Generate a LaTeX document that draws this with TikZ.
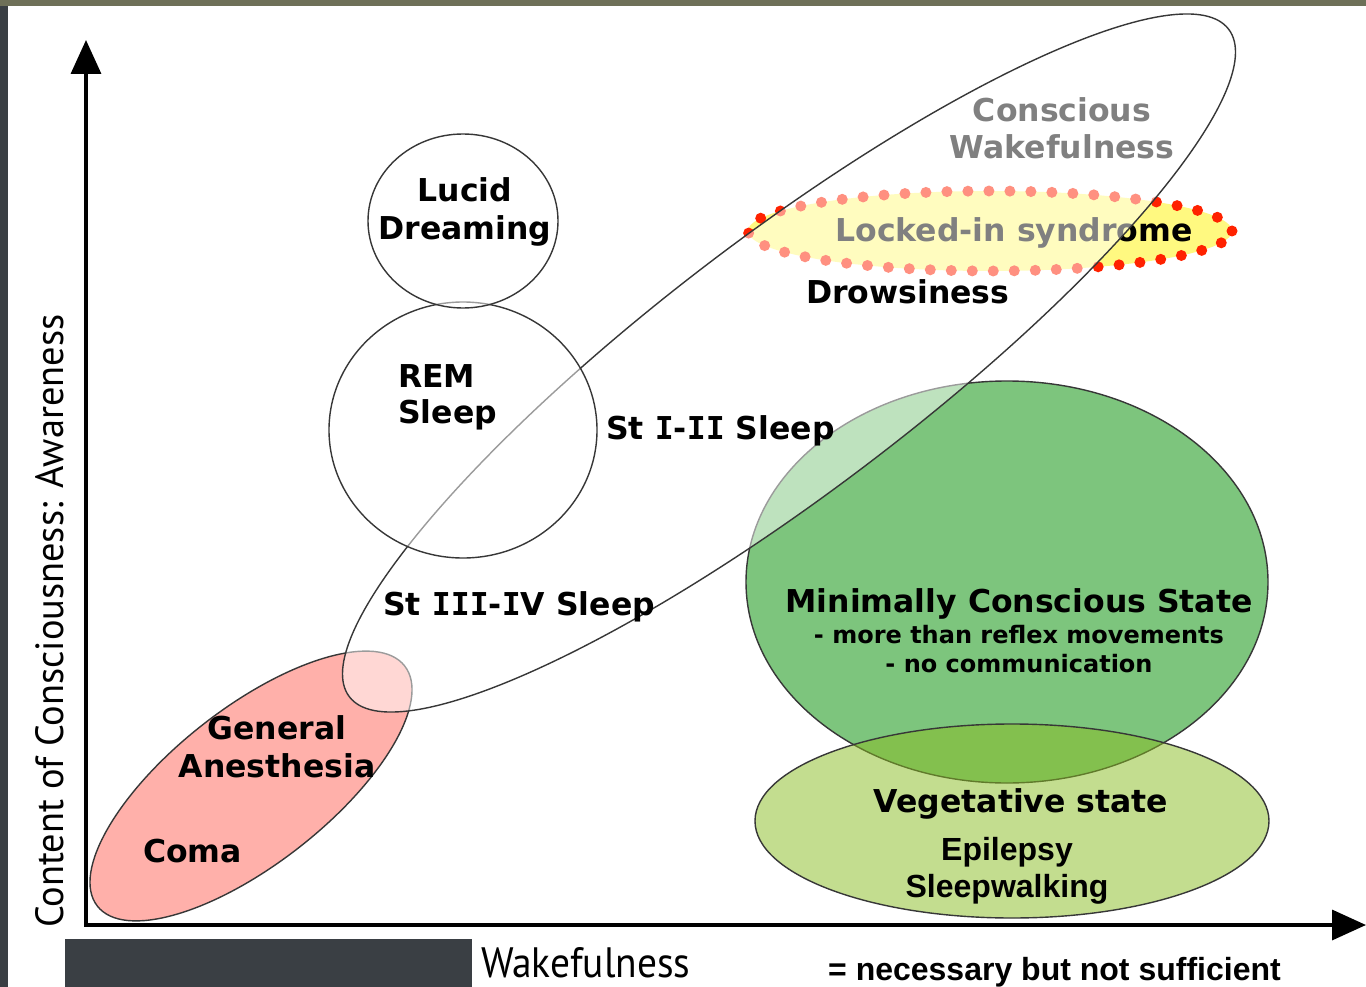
\documentclass[tikz,border=0pt]{standalone}
\usepackage{fontspec}
\setmainfont{DejaVu Sans}
\newfontfamily\arialf{Liberation Sans}
\newfontfamily\axisf{PT Sans}
\newfontfamily\monof{DejaVu Sans Mono}
\usetikzlibrary{arrows.meta}
\definecolor{topbar}{RGB}{110,112,88}
\definecolor{sidebar}{RGB}{58,63,68}
\definecolor{outl}{RGB}{55,55,55}
\definecolor{pinkc}{RGB}{255,176,170}
\definecolor{mcsgreen}{RGB}{125,197,125}
\definecolor{veggreen}{RGB}{137,189,33}
\definecolor{lockyellow}{RGB}{255,249,128}
\definecolor{dotred}{RGB}{255,34,0}
\newcommand{\romI}{{\monof I}}
\begin{document}
\begin{tikzpicture}[x=1pt,y=-1pt,
  lbl/.style={font=\fontsize{31.5}{37}\selectfont\bfseries, inner sep=0pt, anchor=base},
  lblw/.style={lbl, anchor=base west},
  smalllbl/.style={font=\fontsize{24}{28}\selectfont\bfseries, inner sep=0pt, anchor=base},
  arl/.style={font=\arialf\fontsize{32}{37}\selectfont\bfseries, inner sep=0pt, anchor=base},
  region/.style={draw=outl, line width=1.4pt},
  veil/.style={region, fill=white, fill opacity=0.5},
  axis/.style={line width=3.5pt, line join=miter}]
\useasboundingbox (0,0) rectangle (1366,987);
\fill[white] (0,0) rectangle (1366,987);
\fill[sidebar] (0,0) rectangle (8,987);
\fill[topbar] (0,0) rectangle (1366,6);
\fill[sidebar] (65,939) rectangle (472,987);

% Minimally conscious state and vegetative state
\draw[region, fill=mcsgreen] (1007,582) ellipse [x radius=261pt, y radius=201pt];
\draw[region, fill=veggreen, fill opacity=0.5] (1012,821) ellipse [x radius=257pt, y radius=97pt];
% anesthesia / coma
\draw[region, fill=pinkc, rotate around={38:(251,786)}] (251,786) ellipse [x radius=195pt, y radius=78pt];
% locked-in syndrome
\fill[lockyellow] (990,231) ellipse [x radius=242pt, y radius=40pt];
\draw[dotred, line width=11pt, line cap=round, dash pattern=on 0pt off 21pt] (990,231) ellipse [x radius=242pt, y radius=40pt];
\node[lbl] (locked) at (1014,242) {Locked-in syndrome};
\node[lbl] (consc1) at (1062,122) {Conscious};
\node[lbl] (consc2) at (1062,159) {Wakefulness};

% conscious wakefulness ellipse (veil)
\draw[veil, rotate around={37.2:(789,363)}] (789,363) ellipse [x radius=552pt, y radius=128pt];
% REM sleep and lucid dreaming
\draw[veil] (463,430) ellipse [x radius=134pt, y radius=128pt];
\draw[veil] (463,221) ellipse [x radius=95pt, y radius=87pt];

% labels
\node[lbl] (lucid1) at (465,202) {Lucid};
\node[lbl] (lucid2) at (465,240) {Dreaming};
\node[lblw] (drowsy) at (806,303) {Drowsiness};
\node[lblw] (rem1) at (398,387) {REM};
\node[lblw] (rem2) at (398,423) {Sleep};
\node[lblw] (st12) at (606,439) {St \romI-\romI\romI\ Sleep};
\node[lblw] (st34) at (383,615) {St \romI\romI\romI-\romI V Sleep};
\node[lbl] (mcs) at (1019,612) {Minimally Conscious State};
\node[smalllbl] (mcs2) at (1019,643) {- more than reflex movements};
\node[smalllbl] (mcs3) at (1019,672) {- no communication};
\node[lbl] (gen1) at (277,739) {General};
\node[lbl] (gen2) at (277,777) {Anesthesia};
\node[lblw] (coma) at (143,862) {Coma};
\node[lbl] (veg) at (1021,812) {Vegetative state};
\node[arl] (epi) at (1007,860) {Epilepsy};
\node[arl] (sleepw) at (1007,897) {Sleepwalking};

% axes
\coordinate (O) at (86,925);
\coordinate (ytip) at (86,40);
\coordinate (xtip) at (1366,925);
\draw[axis, {Triangle[length=34pt,width=30pt]}-{Triangle[length=34pt,width=30pt]}] (ytip) -- (O) -- (xtip);
\node[inner sep=0pt, anchor=base west, rotate=90] (ylabel) at (63,928) {\resizebox{613pt}{28pt}{\axisf Content of Consciousness: Awareness}};
\node[inner sep=0pt, anchor=base west] (xlabel) at (481,977) {\resizebox{209pt}{30pt}{\axisf Wakefulness}};
\node[arl, anchor=base west] (legend) at (828,980) {= necessary but not sufficient};
\end{tikzpicture}
\end{document}
